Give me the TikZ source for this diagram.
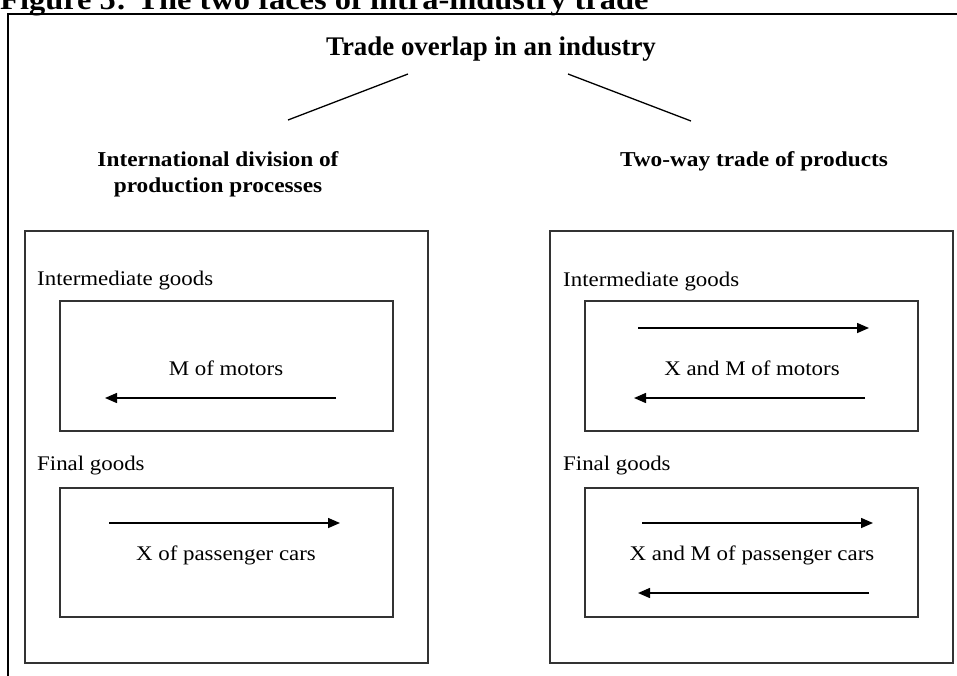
\documentclass[tikz,border=0pt]{standalone}
\usepackage{fontspec}
\setmainfont{Liberation Serif}[FakeStretch=1.1]
\newfontfamily\headserif{Liberation Serif}
\usetikzlibrary{arrows.meta}
\begin{document}
\begin{tikzpicture}[x=1pt,y=-1pt,
  heading/.style={font=\headserif\fontsize{26.9}{32}\selectfont\bfseries, inner sep=0pt, anchor=base},
  subhead/.style={font=\fontsize{21.2}{26}\selectfont\bfseries, inner sep=0pt, align=center},
  label/.style={font=\fontsize{20.8}{26}\selectfont, inner sep=0pt},
  panel/.style={draw=black!80, line width=1.2pt},
  flow/.style={line width=1.5pt, -{Triangle[length=12pt,width=10pt]}},
  link/.style={line width=1.3pt}]
\useasboundingbox (0,0) rectangle (957,675);

% caption (runs off the top edge) and the open frame
\node[font=\fontsize{29.5}{34}\selectfont\bfseries, inner sep=0pt, anchor=base west] (caption) at (0,9) {Figure 5: The two faces of intra-industry trade};
\draw[line width=2pt] (8,680) -- (8,14) -- (962,14);

% top level and its two branches
\node[heading] (overlap) at (491,55) {Trade overlap in an industry};
\coordinate (brL) at (408,74);
\coordinate (brLend) at (288,120);
\coordinate (brR) at (568,74);
\coordinate (brRend) at (691,121);
\draw[link] (brL) -- (brLend);
\draw[link] (brR) -- (brRend);

% base anchor of a two-line node sits on its last line
\node[subhead, anchor=base] (division) at (218,192) {International division of\\production processes};
\node[subhead, anchor=base] (twoway) at (754,166) {Two-way trade of products};

% ---- left panel: division of production processes
\draw[panel] (25,231) rectangle (428,663);
\node[label, anchor=base west] (lint) at (37,285) {Intermediate goods};
\draw[panel] (60,301) rectangle (393,431);
\node[label, anchor=base] (lmot) at (226,375) {M of motors};
\coordinate (la1s) at (336,398);
\coordinate (la1e) at (105,398);
\draw[flow] (la1s) -- (la1e);

\node[label, anchor=base west] (lfin) at (37,470) {Final goods};
\draw[panel] (60,488) rectangle (393,617);
\coordinate (la2s) at (109,523);
\coordinate (la2e) at (340,523);
\draw[flow] (la2s) -- (la2e);
\node[label, anchor=base] (lcar) at (226,560) {X of passenger cars};

% ---- right panel: two-way trade
\draw[panel] (550,231) rectangle (953,663);
\node[label, anchor=base west] (rint) at (563,286) {Intermediate goods};
\draw[panel] (585,301) rectangle (918,431);
\coordinate (ra1s) at (638,328);
\coordinate (ra1e) at (869,328);
\draw[flow] (ra1s) -- (ra1e);
\node[label, anchor=base] (rmot) at (752,375) {X and M of motors};
\coordinate (ra2s) at (865,398);
\coordinate (ra2e) at (634,398);
\draw[flow] (ra2s) -- (ra2e);

\node[label, anchor=base west] (rfin) at (563,470) {Final goods};
\draw[panel] (585,488) rectangle (918,617);
\coordinate (ra3s) at (642,523);
\coordinate (ra3e) at (873,523);
\draw[flow] (ra3s) -- (ra3e);
\node[label, anchor=base] (rcar) at (752,560) {X and M of passenger cars};
\coordinate (ra4s) at (869,593);
\coordinate (ra4e) at (638,593);
\draw[flow] (ra4s) -- (ra4e);
\end{tikzpicture}
\end{document}
